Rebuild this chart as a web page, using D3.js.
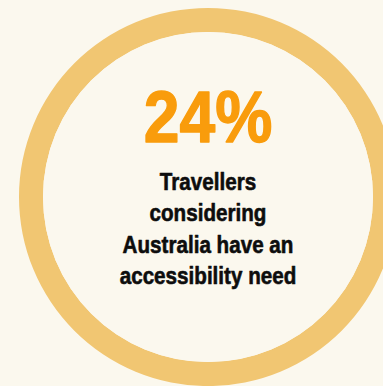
<!DOCTYPE html>
<html>
<head>
<meta charset="utf-8">
<script src="https://cdn.jsdelivr.net/npm/d3@7"></script>
<style>
  html, body { margin: 0; padding: 0; background: #fbf8ee; }
  svg { display: block; }
</style>
</head>
<body>
<svg id="chart" width="383" height="386"></svg>
<script>
// Headline figure and its caption
const shareValue = [24];
const shareLabel = ["24%"];
const captionLines = ["Travellers", "considering", "Australia have an", "accessibility need"];
// The ring is one full slice
const ringSlices = [100];

const W = 383, H = 386;
const cx = 208, cy = 197;
const outerR = 189, innerR = 165;

const svg = d3.select("#chart");

svg.append("rect")
  .attr("width", W).attr("height", H)
  .attr("fill", "#fbf8ee");

const g = svg.append("g").attr("transform", `translate(${cx},${cy})`);

const pie = d3.pie().sort(null).startAngle(-Math.PI / 2).endAngle(1.5 * Math.PI);
const arc = d3.arc().innerRadius(innerR).outerRadius(outerR);

g.selectAll("path.ring")
  .data(pie(ringSlices))
  .join("path")
  .attr("class", "ring")
  .attr("d", arc)
  .attr("fill", "#f1c672");

// Inner disc
g.append("circle")
  .attr("r", innerR)
  .attr("fill", "#fbf8ee");

// Big number
g.selectAll("text.value")
  .data(shareLabel)
  .join("text")
  .attr("class", "value")
  .attr("text-anchor", "middle")
  .attr("transform", "translate(0,-55) scale(0.88,1)")
  .attr("font-family", "'Liberation Sans', Arial, sans-serif")
  .attr("font-weight", "bold")
  .attr("font-size", 73)
  .attr("fill", "#f99c0c")
  .attr("stroke", "#f99c0c")
  .attr("stroke-width", 1.4)
  .attr("stroke-linejoin", "round")
  .text(d => d);

// Caption lines
const lineY = d3.scalePoint()
  .domain(d3.range(captionLines.length))
  .range([-7, 87]);

g.selectAll("text.caption")
  .data(captionLines)
  .join("text")
  .attr("class", "caption")
  .attr("text-anchor", "middle")
  .attr("transform", (d, i) => `translate(0,${lineY(i)}) scale(0.86,1)`)
  .attr("font-family", "'Liberation Sans', Arial, sans-serif")
  .attr("font-weight", "bold")
  .attr("font-size", 24)
  .attr("fill", "#0d0d0d")
  .attr("stroke", "#0d0d0d")
  .attr("stroke-width", 0.6)
  .attr("stroke-linejoin", "round")
  .text(d => d);
</script>
</body>
</html>
